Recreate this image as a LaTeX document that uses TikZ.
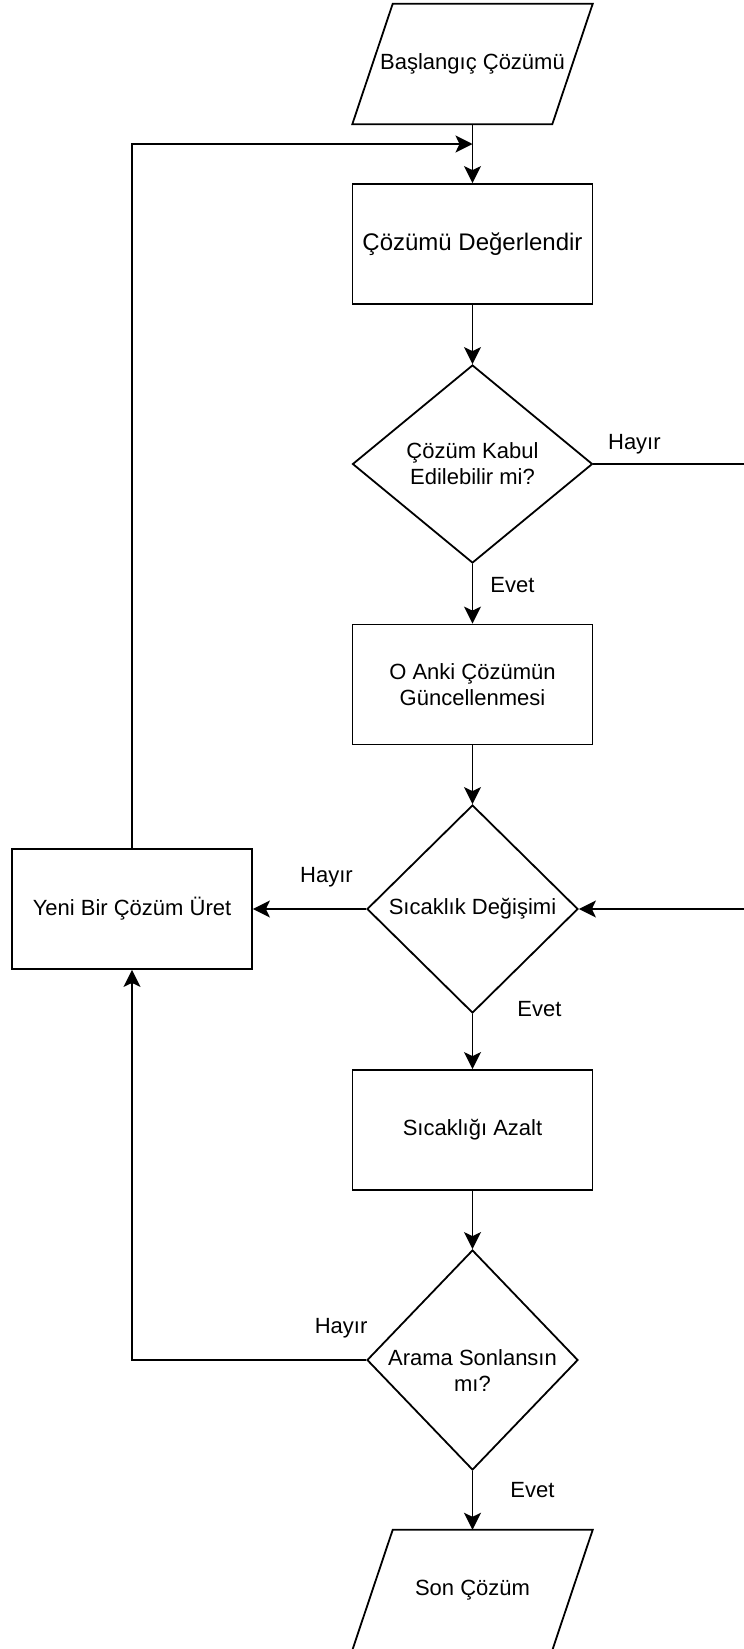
\documentclass[tikz,border=0pt]{standalone}
\usepackage{fontspec}
\setmainfont{Liberation Sans}
\usetikzlibrary{shapes.geometric,arrows.meta}

\begin{document}
\begin{tikzpicture}[x=1pt,y=1pt,
    every node/.style={font=\fontsize{22}{26}\selectfont},
    box/.style={draw,line width=1.8pt,minimum width=240pt,minimum height=120pt,align=center},
    iobox/.style={minimum width=240pt,minimum height=120pt,align=center},
    test/.style={diamond,draw,line width=1.8pt,inner sep=0pt,align=center},
    lbl/.style={inner sep=0pt},
    link/.style={line width=1.8pt,-{Stealth[length=17pt,width=17pt,inset=4pt]}}]
    \useasboundingbox (0,0) rectangle (744,-1649);
    \clip (0,0) rectangle (744,-1649);
    \node[iobox] (start) at (472.5,-64) {Başlangıç Çözümü};
    \node[box,font=\fontsize{24}{28}\selectfont] (eval) at (472.5,-244) {Çözümü Değerlendir};
    \node[test,minimum width=240pt,minimum height=198pt] (accept) at (472.5,-464) {Çözüm Kabul\\Edilebilir mi?};
    \node[box] (update) at (472.5,-684.5) {O Anki Çözümün\\Güncellenmesi};
    \node[test,minimum width=211pt,minimum height=208pt] (temp) at (472.5,-909) {Sıcaklık Değişimi};
    \node[box] (newsol) at (132,-909) {Yeni Bir Çözüm Üret};
    \node[box] (cool) at (472.5,-1130) {Sıcaklığı Azalt};
    \node[test,minimum width=211pt,minimum height=220pt] (stop) at (472.5,-1360) {\raisebox{-18pt}[0pt][0pt]{\begin{tabular}{@{}c@{}}Arama Sonlansın\\mı?\end{tabular}}};
    \node[iobox] (final) at (472.5,-1590) {Son Çözüm};
    \coordinate (join) at (472.5,-144);
    \draw[line width=1.8pt] (start.south west) -- ++(200,0) -- (start.north east) -- ++(-200,0) -- cycle;
    \draw[line width=1.8pt] (final.south west) -- ++(200,0) -- (final.north east) -- ++(-200,0) -- cycle;
    \draw[link] (start) -- (eval);
    \draw[link] (eval) -- (accept);
    \draw[link] (accept) -- node[lbl,pos=0.35,xshift=40pt] {Evet} (update);
    \draw[link] (accept.east) -- node[lbl,pos=0,xshift=41pt,yshift=20pt] {Hayır} ++(200,0) |- (temp.east);
    \draw[link] (update) -- (temp);
    \draw[link] (temp) -- node[lbl,pos=0.35,yshift=32pt] {Hayır} (newsol);
    \draw[link] (temp) -- node[lbl,pos=0,xshift=67pt,yshift=5pt] {Evet} (cool);
    \draw[link] (cool) -- (stop);
    \draw[link] (stop) -- node[lbl,pos=0.32,xshift=60pt] {Evet} (final);
    \draw[link] (stop.west) -| node[lbl,pos=0,xshift=-25pt,yshift=32pt] {Hayır} (newsol.south);
    \draw[link] (newsol) |- (join);
\end{tikzpicture}
\end{document}
